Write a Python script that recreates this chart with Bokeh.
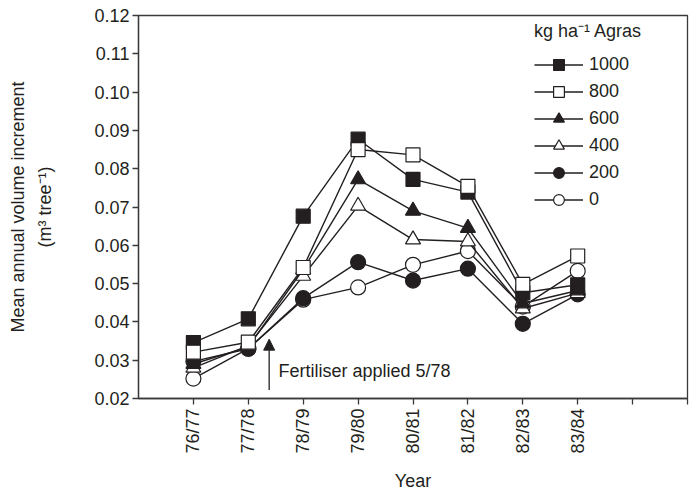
from bokeh.plotting import figure
from bokeh.models import (FixedTicker, Legend, LegendItem, Title, Arrow, NormalHead, Label)
from bokeh.embed import file_html
from bokeh.resources import INLINE
import math

# ---- data ----
years = ["76/77", "77/78", "78/79", "79/80", "80/81", "81/82", "82/83", "83/84"]
xpos = [1, 2, 3, 4, 5, 6, 7, 8]
extra_ticks = [9, 10]
rates = ["1000", "800", "600", "400", "200", "0"]
s1000 = [0.0346, 0.0408, 0.0676, 0.0877, 0.0772, 0.0739, 0.0476, 0.0497]
s800 = [0.0321, 0.0347, 0.0542, 0.0850, 0.0836, 0.0754, 0.0498, 0.0572]
s600 = [0.0290, 0.0335, 0.0537, 0.0772, 0.0690, 0.0645, 0.0448, 0.0482]
s400 = [0.0280, 0.0338, 0.0520, 0.0703, 0.0615, 0.0610, 0.0435, 0.0475]
s200 = [0.0297, 0.0330, 0.0462, 0.0556, 0.0508, 0.0539, 0.0395, 0.0472]
s0 = [0.0252, 0.0330, 0.0458, 0.0490, 0.0549, 0.0585, 0.0440, 0.0533]
yticks = [0.02, 0.03, 0.04, 0.05, 0.06, 0.07, 0.08, 0.09, 0.10, 0.11, 0.12]
ytick_labels = ["0.02", "0.03", "0.04", "0.05", "0.06", "0.07", "0.08", "0.09", "0.10", "0.11", "0.12"]
annot_text = "Fertiliser applied 5/78"
annot_x = 2.38
annot_y0, annot_y1 = 0.0222, 0.0355

FONT = "Liberation Sans"
INK = "#231f20"

p = figure(frame_width=549, frame_height=383, x_range=(0, 10), y_range=(0.02, 0.12),
           output_backend="svg", toolbar_location=None,
           min_border_left=135, min_border_right=8, min_border_top=15, min_border_bottom=92,
           background_fill_color="white", border_fill_color="white")
p.grid.visible = False
p.outline_line_color = "#3a3a3a"
p.outline_line_width = 1.3

for ax in (p.xaxis[0], p.yaxis[0]):
    ax.axis_line_color = "#3a3a3a"
    ax.axis_line_width = 1.3
    ax.major_tick_line_color = "#3a3a3a"
    ax.major_tick_line_width = 1.3
    ax.major_tick_in = 0
    ax.major_tick_out = 6
    ax.minor_tick_line_color = None
    ax.major_label_text_font = FONT
    ax.major_label_text_font_size = "18px"
    ax.major_label_text_color = INK
    ax.axis_label_text_font = FONT
    ax.axis_label_text_font_size = "18px"
    ax.axis_label_text_font_style = "normal"
    ax.axis_label_text_color = INK

p.xaxis.ticker = FixedTicker(ticks=xpos + extra_ticks)
p.xaxis.major_label_overrides = {**{x: y for x, y in zip(xpos, years)}, **{t: "" for t in extra_ticks}}
p.xaxis.major_label_orientation = math.pi / 2
p.xaxis.major_label_standoff = 4
p.xaxis.axis_label = "Year"
p.xaxis.axis_label_standoff = 14

p.yaxis.ticker = FixedTicker(ticks=yticks)
p.yaxis.major_label_overrides = {t: l for t, l in zip(yticks, ytick_labels)}
p.yaxis.major_label_standoff = 3
p.yaxis.axis_label = "(m\u00b3 tree\u207b\u00b9)"
p.yaxis.axis_label_standoff = 36

series = [
    (s0, "circle", "white", 15),
    (s200, "circle", INK, 15),
    (s400, "triangle", "white", 15),
    (s600, "triangle", INK, 15),
    (s1000, "square", INK, 14),
    (s800, "square", "white", 14),
]
names = {id(s0): "0", id(s200): "200", id(s400): "400", id(s600): "600", id(s800): "800", id(s1000): "1000"}
rend = {}
for vals, marker, fill, size in series:
    lr = p.line(xpos, vals, line_color=INK, line_width=1.4)
    sr = p.scatter(xpos, vals, marker=marker, size=size, fill_color=fill,
                   line_color=INK, line_width=1.2)
    rend[names[id(vals)]] = (lr, sr)

items = [LegendItem(label=r, renderers=list(rend[r])) for r in rates]
legend = Legend(items=items, location=(396, 185), title="kg ha\u207b\u00b9 Agras",
                title_text_font=FONT, title_text_font_size="18px", title_text_font_style="normal",
                title_text_color=INK, title_standoff=9,
                label_text_font=FONT, label_text_font_size="18px", label_text_color=INK,
                glyph_width=49, glyph_height=27, label_height=20, spacing=0, label_standoff=6,
                padding=0, margin=0, border_line_color=None, background_fill_alpha=0)
p.add_layout(legend, "center")

p.add_layout(Title(text="Mean annual volume increment", align="center", text_font=FONT,
                   text_font_size="18px", text_font_style="normal", text_color=INK), "left")

p.add_layout(Arrow(end=NormalHead(size=11, fill_color=INK, line_color=INK, line_width=1),
                   x_start=annot_x, y_start=annot_y0, x_end=annot_x, y_end=annot_y1,
                   line_color=INK, line_width=1.3))
p.add_layout(Label(x=2.55, y=0.0273, text=annot_text, text_font=FONT, text_font_size="18px",
                   text_color=INK, text_baseline="middle"))

open("out.html", "w").write(file_html(p, INLINE))
